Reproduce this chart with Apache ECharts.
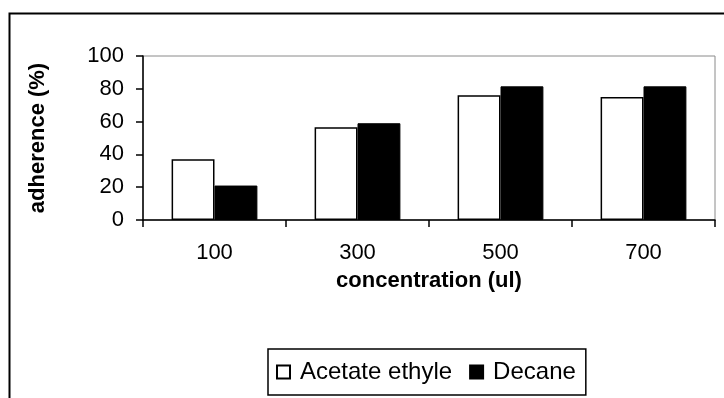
<!DOCTYPE html>
<html><head><meta charset="utf-8">
<script src="https://cdn.jsdelivr.net/npm/echarts@6/dist/echarts.min.js"></script>
<style>html,body{margin:0;padding:0;background:#fff}#c{width:724px;height:398px}</style>
</head><body><div id="c"></div>
<script>
var categories = ['100', '300', '500', '700'];
var acetateEthyle = [37, 56.5, 76, 75];
var decane = [21, 59, 81.5, 81.5];
var yTicks = [0, 20, 40, 60, 80, 100];
var seriesNames = ['Acetate ethyle', 'Decane'];

var FONT = '"Liberation Sans", Arial, sans-serif';
var chart = echarts.init(document.getElementById('c'), null, {renderer: 'canvas'});
chart.setOption({
  animation: false,
  backgroundColor: '#fff',
  graphic: [{
    type: 'rect', left: 7, top: 11, z: 100,
    shape: {x: 0, y: 0, width: 800, height: 500},
    style: {fill: 'none', stroke: '#000', lineWidth: 2}
  }],
  grid: {left: 143, right: 9, top: 56, bottom: 178, show: true, borderColor: '#8a8a8a', borderWidth: 1, backgroundColor: 'transparent'},
  legend: {
    data: seriesNames,
    left: 268, top: 349,
    padding: [11, 10, 11, 8],
    borderColor: '#000', borderWidth: 1.5,
    icon: 'rect', itemWidth: 13, itemHeight: 13, itemGap: 17,
    textStyle: {fontFamily: FONT, fontSize: 24, color: '#000', padding: [0, 0, 0, 5]}
  },
  xAxis: {
    type: 'category', data: categories,
    name: 'concentration (ul)', nameLocation: 'middle', nameGap: 50,
    nameTextStyle: {fontFamily: FONT, fontSize: 22, fontWeight: 'bold', color: '#000'},
    axisLine: {lineStyle: {color: '#000', width: 1.5}},
    axisTick: {show: true, alignWithLabel: false, length: 7, lineStyle: {color: '#000', width: 1.5}},
    axisLabel: {fontFamily: FONT, fontSize: 22, color: '#000', margin: 22},
    splitLine: {show: false}
  },
  yAxis: {
    type: 'value', min: 0, max: 100, interval: 20,
    name: 'adherence (%)', nameLocation: 'middle', nameGap: 94, nameRotate: 90,
    nameTextStyle: {fontFamily: FONT, fontSize: 22, fontWeight: 'bold', color: '#000'},
    axisLine: {show: true, lineStyle: {color: '#000', width: 1.5}},
    axisTick: {show: true, length: 7, lineStyle: {color: '#000', width: 1.5}},
    axisLabel: {fontFamily: FONT, fontSize: 22, color: '#000', margin: 19,
      formatter: function (v) { return yTicks.indexOf(v) >= 0 ? String(v) : ''; }},
    splitLine: {show: false}
  },
  series: [
    {name: seriesNames[0], type: 'bar', data: acetateEthyle, barGap: '0%', barCategoryGap: '40%',
     itemStyle: {color: '#fff', borderColor: '#000', borderWidth: 1.5}},
    {name: seriesNames[1], type: 'bar', data: decane, barGap: '0%', barCategoryGap: '40%',
     itemStyle: {color: '#000', borderColor: '#000', borderWidth: 1}}
  ]
});
</script></body></html>
